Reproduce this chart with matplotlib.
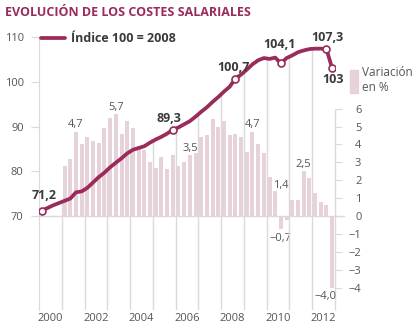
import numpy as np
import matplotlib
matplotlib.use("Agg")
from matplotlib import pyplot as plt
from matplotlib.patches import Patch

plt.rcParams['font.family'] = ['Open Sans', 'DejaVu Sans']

# Indice trimestral (100 = 2008), 2000T1 .. 2012T4
indice = [71.2, 71.8, 72.4, 72.9,
          73.4, 73.9, 75.3, 75.5,
          76.3, 77.5, 78.7, 79.7,
          80.9, 81.9, 82.9, 84.0,
          84.8, 85.2, 85.6, 86.4,
          87.1, 87.7, 88.4, 89.3,
          89.8, 90.5, 91.2, 92.2,
          93.3, 94.3, 95.5, 96.6,
          97.8, 98.9, 100.7, 101.6,
          102.7, 103.9, 104.8, 105.3,
          105.1, 105.4, 104.1, 105.3,
          105.9, 106.6, 107.0, 107.3,
          107.4, 107.4, 107.3, 103.0]

# Variacion interanual (%), 2001T1 .. 2012T4
variacion = [2.8, 3.2, 4.7, 4.0,
             4.4, 4.2, 4.1, 4.9,
             5.5, 5.7, 4.6, 5.3,
             4.9, 3.9, 3.7, 3.0,
             2.7, 3.3, 2.6, 3.4,
             2.8, 3.0, 3.4, 3.5,
             4.4, 4.5, 5.4, 5.0,
             5.3, 4.5, 4.6, 4.4,
             3.6, 4.7, 4.0, 3.5,
             2.2, 1.4, -0.7, -0.2,
             0.9, 0.9, 2.5, 2.1,
             1.3, 0.8, 0.6, -4.0]

anios = list(range(2000, 2014))
anios_etiqueta = ['2000', '2002', '2004', '2006', '2008', '2010', '2012']

# puntos destacados del indice (posicion en la serie) y desplazamiento etiqueta
marcados = [0, 23, 34, 42, 50, 51]
desp_ind = [(1.5, 11), (-3, 8), (-1.5, 8), (-1, 13.5), (1, 8), (1, -8)]
# barras con etiqueta (posicion en la serie) y desplazamiento
barras_et = [2, 9, 23, 33, 37, 38, 42, 47]
desp_bar = [(0, 5), (0, 5), (-4, 3.5), (0, 5), (4, 4), (0, -7), (0, 5), (-5, -6.5)]

granate = '#9a2b5b'
rosa = '#e8d2d9'
gris = '#dadada'
texto = '#555555'

xq = np.arange(2000, 2013, 0.25) + 0.125
xv = xq[4:]

fig = plt.figure(figsize=(4.14, 3.28), dpi=100)
ax = fig.add_axes([39/414, 18/328, 296/414, 273/328])
ax2 = ax.twinx()
ax.set_zorder(ax2.get_zorder() + 1)
ax.patch.set_visible(False)

ax.set_xlim(2000, 2013)
ax.set_ylim(49, 110)
ax2.set_ylim((49 - 70) / 4, (110 - 70) / 4)

# barras de variacion
ax2.bar(xv, variacion, width=0.175, color=rosa, zorder=1)
ax2.axhline(0, xmin=0, xmax=1.03, color=gris, lw=1, clip_on=False, zorder=0)

# lineas verticales de los anios hasta la curva
tope = np.interp(anios[1:-1], xq, indice)
ax.vlines(anios[1:-1], 49, tope, color=gris, lw=1, zorder=1)
ax2.vlines(2013, ax2.get_ylim()[0], 6, color=gris, lw=1, clip_on=False)

# indice
ax.plot(xq, indice, color=granate, lw=2.7, zorder=3, solid_capstyle='round',
        label='Índice 100 = 2008')
ax.plot(xq[marcados], np.array(indice)[marcados], 'o', ms=5, mfc='white',
        mec=granate, mew=1.2, zorder=4)
for i, d in zip(marcados, desp_ind):
    v = indice[i]
    s = ('%.1f' % v).replace('.', ',') if v != round(v) else '%d' % v
    ax.annotate(s, (xq[i], v), xytext=d, textcoords='offset points',
                ha='center', va='center', fontsize=9, fontweight='bold',
                color='#3a3a3a', zorder=5)

for i, d in zip(barras_et, desp_bar):
    v = variacion[i]
    s = ('%.1f' % v).replace('.', ',').replace('-', '\u2212')
    ax2.annotate(s, (xv[i], v), xytext=d, textcoords='offset points',
                 ha='center', va='center', fontsize=8, color=texto)

# ejes
for a in (ax, ax2):
    for s in ['top', 'right', 'bottom']:
        a.spines[s].set_visible(False)
ax2.spines['left'].set_visible(False)
ax.spines['left'].set_color(gris)

ax.set_yticks([70, 80, 90, 100, 110])
ax.tick_params(axis='y', length=6, color=gris, labelcolor=texto, labelsize=8, pad=5)
ax.set_xticks([int(a) + 0.5 for a in anios_etiqueta])
ax.set_xticklabels(anios_etiqueta)
ax.tick_params(axis='x', length=0, labelcolor=texto, labelsize=8, pad=2)

ax2.set_yticks(range(-4, 7))
ax2.set_yticklabels([str(t).replace('-', '\u2212') for t in range(-4, 7)])
ax2.tick_params(axis='y', length=5, color=gris, labelcolor=texto, labelsize=8, pad=14)
for lbl in ax2.get_yticklabels():
    lbl.set_ha('right')

leg = ax.legend(loc='upper left', bbox_to_anchor=(0.0, 1.027), frameon=False,
                handlelength=1.9, handletextpad=0.5, borderaxespad=0, borderpad=0.2,
                prop={'size': 9, 'weight': 'bold'})
for t in leg.get_texts():
    t.set_color('#3a3a3a')

leg2 = ax2.legend(handles=[Patch(color=rosa)], labels=['Variación\nen %'],
                  loc='upper left', bbox_to_anchor=(1.05, 0.893), frameon=False,
                  handlelength=0.7, handleheight=2.6, handletextpad=0.3,
                  borderaxespad=0, borderpad=0, prop={'size': 8.5})
for t in leg2.get_texts():
    t.set_color(texto)

fig.text(5/414, 1 - 12/328, 'EVOLUCIÓN DE LOS COSTES SALARIALES', color=granate,
         fontsize=9, fontweight='bold', va='center', ha='left')

fig.savefig('out.png', dpi=100)
